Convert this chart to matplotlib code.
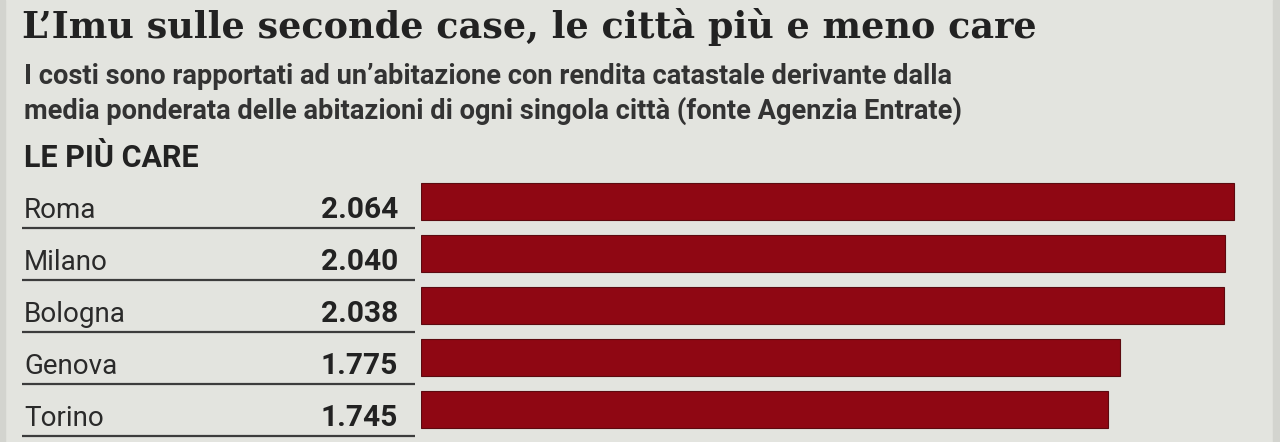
import matplotlib.pyplot as plt
import matplotlib.transforms as mtransforms
from matplotlib.patches import Rectangle

cities = ['Roma', 'Milano', 'Bologna', 'Genova', 'Torino']
imu = [2064, 2040, 2038, 1775, 1745]
imu_labels = ['2.064', '2.040', '2.038', '1.775', '1.745']

title = "L\u2019Imu sulle seconde case, le città più e meno care"
subtitle = ["I costi sono rapportati ad un\u2019abitazione con rendita catastale derivante dalla",
            "media ponderata delle abitazioni di ogni singola città (fonte Agenzia Entrate)"]
section = "LE PIÙ CARE"

bg = '#e3e4df'
red = '#8f0713'
W, H = 1280, 442

fig = plt.figure(figsize=(W / 100, H / 100), dpi=100, facecolor=bg)

# side borders
fig.patches.append(Rectangle((0, 0), 5 / W, 1, transform=fig.transFigure, color='#d3d4cf', zorder=0))
fig.patches.append(Rectangle((1273 / W, 0), 7 / W, 1, transform=fig.transFigure, color='#d3d4cf', zorder=0))

fig.text(22 / W, 1 - 38 / H, title, fontsize=26.3, fontweight='bold',
         family='DejaVu Serif', color='#222222', va='baseline')
for k, line in enumerate(subtitle):
    fig.text(24 / W, 1 - (84 + 35 * k) / H, line, fontsize=19.6, fontweight='bold',
             family='Roboto', color='#333333', va='baseline')
fig.text(24 / W, 1 - 167 / H, section, fontsize=22, fontweight='bold',
         family='Roboto', color='#222222', va='baseline')

# bar axes: zero at x=421px, Roma row centre at y=201.5px, 52px per row
left = 421 / W
right = 1273 / W
ax = fig.add_axes([left, 0, right - left, 279.5 / H])
ax.set_facecolor('none')
scale = 813 / 2064  # px per unit
ax.set_xlim(0, (1273 - 421) / scale)
ax.set_ylim(4.625, -0.75)
ax.barh(range(len(cities)), imu, height=0.71, color=red, edgecolor='#5c0a10', linewidth=0.8)
ax.axis('off')

trans = mtransforms.blended_transform_factory(fig.transFigure, ax.transData)
for i, (c, v) in enumerate(zip(cities, imu_labels)):
    ax.text(24 / W, i + 0.317, c, transform=trans, fontsize=20, family='Roboto',
            color='#2a2a2a', va='baseline', ha='left')
    ax.text(398 / W, i + 0.317, v, transform=trans, fontsize=21.5, family='Roboto',
            fontweight='bold', color='#222222', va='baseline', ha='right')
    ax.plot([22 / W, 415 / W], [i + 0.5, i + 0.5], transform=trans, color='#3c3c3c',
            lw=1.6, clip_on=False, solid_capstyle='butt')

fig.savefig('out.png', dpi=100, facecolor=bg)
